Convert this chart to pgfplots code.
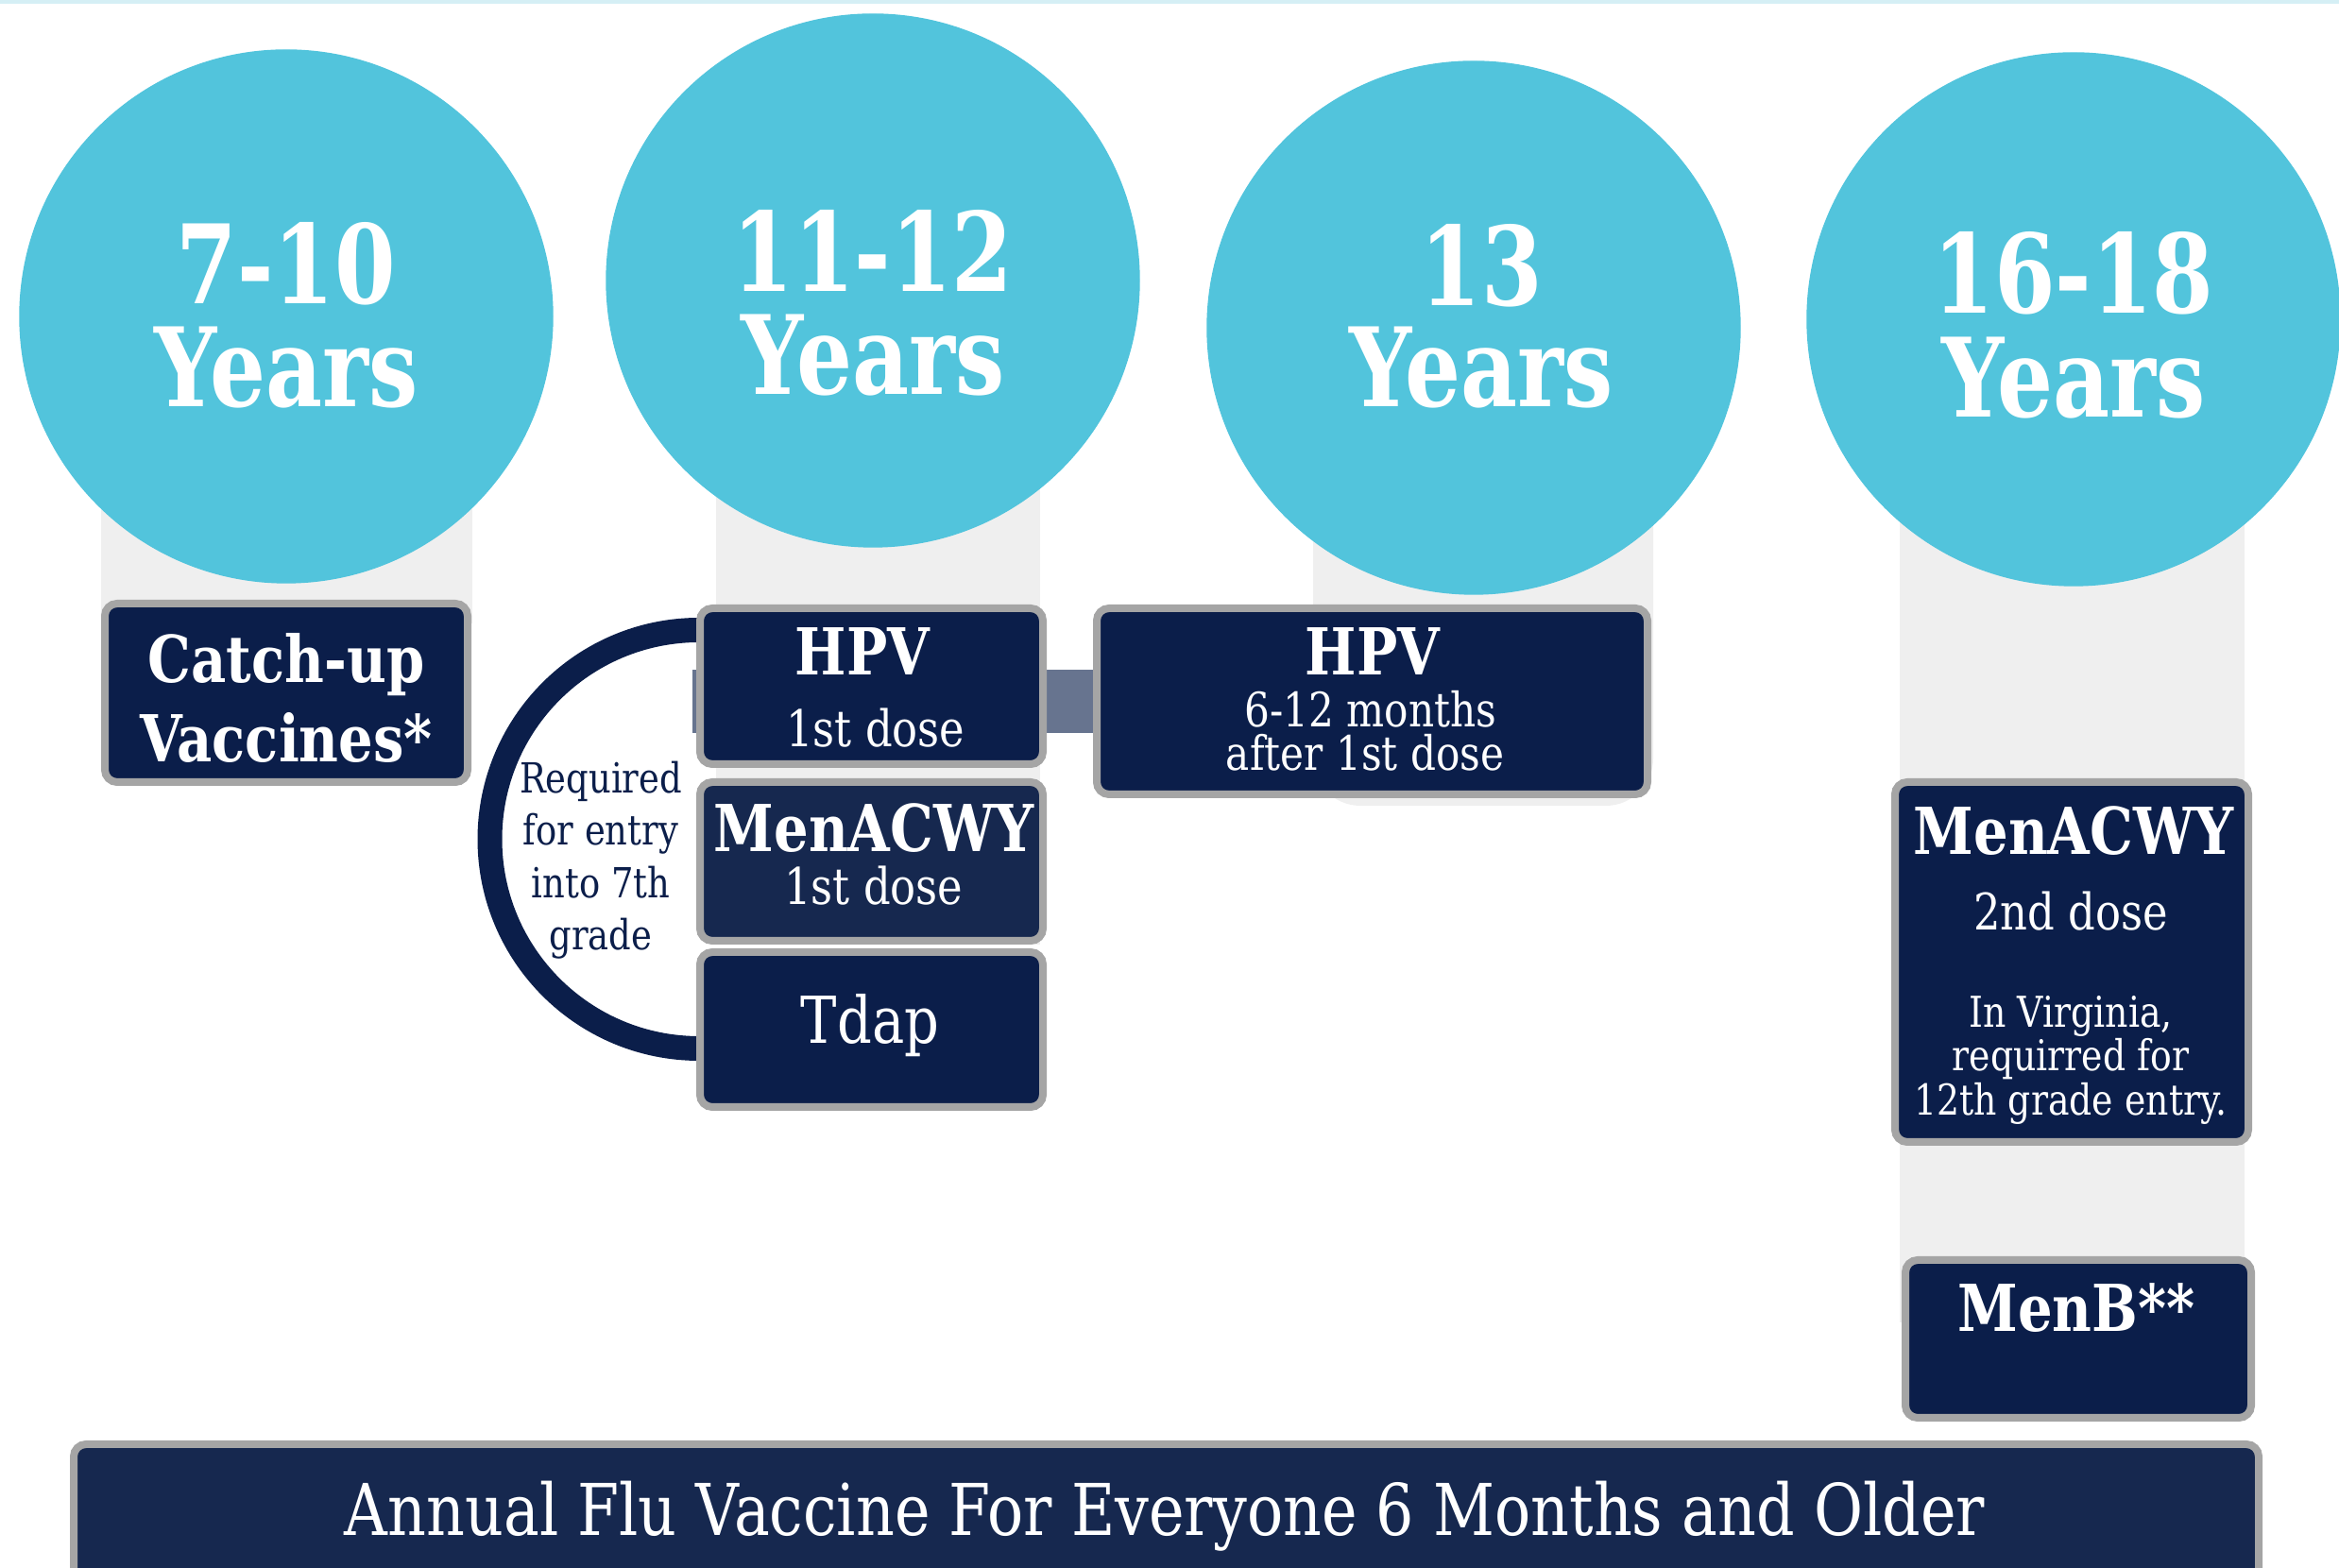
\documentclass[border=0pt]{standalone}
\usepackage{pgfplots}
\pgfplotsset{compat=1.18}
\usepackage{fontspec}
\setmainfont[FakeStretch=0.84]{DejaVu Serif}
\newfontfamily\circfont[FakeStretch=0.8]{DejaVu Serif}
\definecolor{cyanC}{HTML}{52C4DC}
\definecolor{navy}{HTML}{0B1E4A}
\definecolor{navyB}{HTML}{16284F}
\definecolor{bord}{HTML}{A5A5A5}
\definecolor{colg}{HTML}{EFEFEF}
\definecolor{conn}{HTML}{67748F}
\definecolor{topl}{HTML}{D5EFF5}
\newcommand{\vbx}[5]{\draw[draw=bord, line width=0.8mm, fill=#5, rounded corners=1.3mm] (axis cs:#1,#2) rectangle (axis cs:#3,#4);}
\newcommand{\txt}[4]{\node[anchor=base, text=#4, inner sep=0pt] at (axis cs:#1,#2) {#3};}
\begin{document}
\begin{tikzpicture}
\begin{axis}[width=24.76cm, height=16.6cm, scale only axis,
  xmin=0, xmax=2476, ymin=0, ymax=1660, y dir=reverse,
  hide axis, clip=true, set layers=standard]
% top line
\fill[topl] (axis cs:0,0) rectangle (axis cs:2476,4);
% gray columns
\fill[colg] (axis cs:107,450) rectangle (axis cs:500,660);
\fill[colg] (axis cs:758,420) rectangle (axis cs:1101,1000);
\fill[colg, rounded corners=5mm] (axis cs:1390,450) rectangle (axis cs:1750,853);
\fill[colg] (axis cs:2011,450) rectangle (axis cs:2376,1400);
% circles
\addplot[only marks, mark=*, mark size=28.2mm, color=cyanC, mark options={draw=none, fill=cyanC}]
  coordinates {(303,335) (924,297) (1560,347) (2195,338)};
% connector
\fill[conn] (axis cs:733,709) rectangle (axis cs:1165,776);
% arc
\draw[navy, line width=2.6mm] (axis cs:740,667) arc[start angle=90, end angle=270, radius=22.15mm];
% boxes
\vbx{111}{639}{495}{828}{navy}
\vbx{741}{644}{1104}{809}{navy}
\vbx{741}{828}{1104}{996}{navyB}
\vbx{741}{1008}{1104}{1172}{navy}
\vbx{1161}{644}{1744}{841}{navy}
\vbx{2006}{828}{2380}{1209}{navy}
\vbx{2017}{1334}{2383}{1501}{navy}
\vbx{78}{1529}{2391}{1700}{navyB}
\begin{pgfonlayer}{axis foreground}
% circle texts
\txt{303}{322}{\circfont\bfseries\fontsize{33}{33}\selectfont 7-10}{white}
\txt{303}{431}{\circfont\bfseries\fontsize{33}{33}\selectfont Years}{white}
\txt{924}{309}{\circfont\bfseries\fontsize{33}{33}\selectfont 11-12}{white}
\txt{924}{418}{\circfont\bfseries\fontsize{33}{33}\selectfont Years}{white}
\txt{1568}{324}{\circfont\bfseries\fontsize{33}{33}\selectfont 13}{white}
\txt{1568}{431}{\circfont\bfseries\fontsize{33}{33}\selectfont Years}{white}
\txt{2195}{332}{\circfont\bfseries\fontsize{33}{33}\selectfont 16-18}{white}
\txt{2195}{442}{\circfont\bfseries\fontsize{33}{33}\selectfont Years}{white}
% box texts
\txt{303}{723}{\bfseries\fontsize{19.5}{19.5}\selectfont Catch-up}{white}
\txt{303}{807}{\bfseries\fontsize{19.5}{19.5}\selectfont Vaccines*}{white}
\txt{913}{715}{\bfseries\fontsize{19.5}{19.5}\selectfont HPV}{white}
\txt{927}{791}{\fontsize{15.2}{15.2}\selectfont 1st dose}{white}
\txt{925}{902}{\bfseries\fontsize{19.5}{19.5}\selectfont MenACWY}{white}
\txt{925}{958}{\fontsize{15.2}{15.2}\selectfont 1st dose}{white}
\txt{921}{1105}{\fontsize{19.5}{19.5}\selectfont Tdap}{white}
\txt{1453}{715}{\bfseries\fontsize{19.5}{19.5}\selectfont HPV}{white}
\txt{1451}{770}{\fontsize{14.3}{14.3}\selectfont 6-12 months}{white}
\txt{1445}{816}{\fontsize{14.3}{14.3}\selectfont after 1st dose}{white}
\txt{636}{840}{\fontsize{12.5}{12.5}\selectfont Required}{navy}
\txt{636}{895}{\fontsize{12.5}{12.5}\selectfont for entry}{navy}
\txt{636}{951}{\fontsize{12.5}{12.5}\selectfont into 7th}{navy}
\txt{636}{1006}{\fontsize{12.5}{12.5}\selectfont grade}{navy}
\txt{2195}{905}{\bfseries\fontsize{19.5}{19.5}\selectfont MenACWY}{white}
\txt{2192}{985}{\fontsize{15.2}{15.2}\selectfont 2nd dose}{white}
\txt{2192}{1088}{\fontsize{12.8}{12.8}\selectfont In Virginia,}{white}
\txt{2192}{1134}{\fontsize{12.8}{12.8}\selectfont requirred for}{white}
\txt{2192}{1181}{\fontsize{12.8}{12.8}\selectfont 12th grade entry.}{white}
\txt{2198}{1410}{\bfseries\fontsize{19.5}{19.5}\selectfont MenB**}{white}
\txt{1233}{1626}{\fontsize{21.5}{21.5}\selectfont Annual Flu Vaccine For Everyone 6 Months and Older}{white}
\end{pgfonlayer}
\coordinate (bl) at (rel axis cs:0,1);
\coordinate (tr) at (rel axis cs:1,0);
\end{axis}
\pgfresetboundingbox
\path[use as bounding box] (bl) rectangle (tr);
\end{tikzpicture}
\end{document}
